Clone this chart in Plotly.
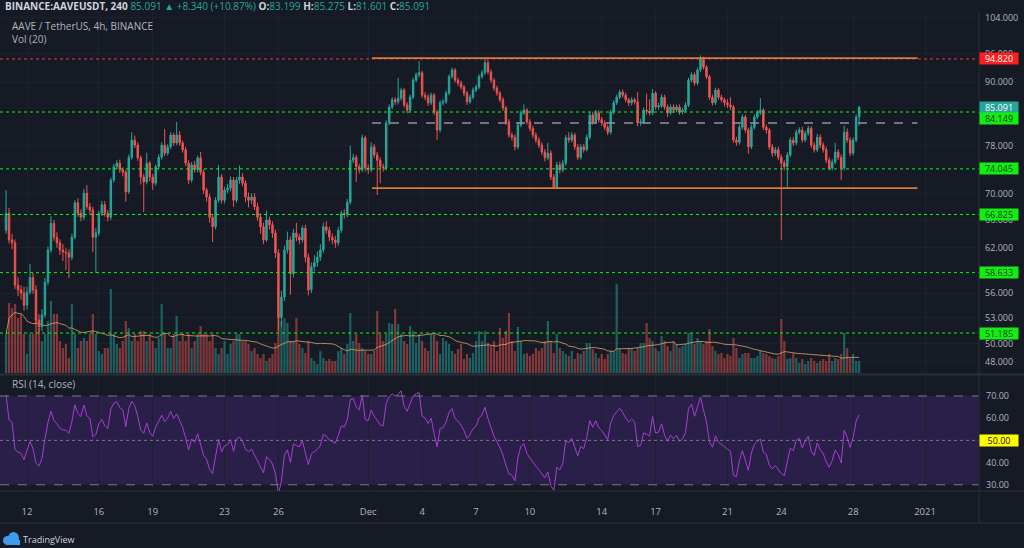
import numpy as np
import pandas as pd
import plotly.graph_objects as go

# ---------------- data (4h candles) ----------------
candle_start = "2020-11-10 20:00"
candle_freq = "4h"
first_open = 64.5

closes = [67.0, 63.1, 62.7, 57.0, 56.4, 56.0, 54.5, 56.1, 58.0, 56.4,
          52.7, 51.9, 53.3, 57.4, 61.7, 65.5, 63.5, 62.7, 61.7, 61.4,
          61.3, 60.7, 63.5, 68.6, 67.0, 66.4, 70.1, 68.0, 67.5, 63.5,
          64.1, 67.0, 68.3, 67.0, 66.4, 72.2, 74.4, 75.0, 73.9, 73.5,
          70.3, 76.0, 79.0, 78.1, 75.9, 72.7, 71.9, 75.0, 72.7, 71.7,
          74.4, 76.0, 78.1, 76.7, 77.8, 79.9, 78.5, 79.9, 78.5, 77.3,
          75.0, 72.2, 74.7, 73.9, 75.9, 73.5, 70.6, 69.5, 66.4, 65.0,
          69.0, 72.7, 69.0, 70.6, 70.9, 72.2, 69.0, 72.2, 72.7, 71.7,
          69.5, 69.0, 69.5, 68.0, 66.4, 65.0, 63.1, 66.0, 65.3, 64.1,
          61.3, 53.0, 55.5, 61.7, 63.1, 58.5, 64.1, 63.5, 63.1, 64.8,
          60.7, 56.4, 59.4, 60.0, 60.7, 61.7, 65.0, 64.5, 63.5, 63.1,
          62.7, 64.5, 67.0, 66.8, 68.7, 75.5, 76.0, 74.4, 73.9, 79.4,
          74.2, 73.9, 77.8, 76.4, 75.5, 74.4, 74.2, 82.1, 85.1, 86.5,
          86.1, 86.8, 88.4, 85.5, 84.5, 87.0, 90.4, 91.5, 91.9, 87.4,
          87.0, 85.9, 87.4, 84.15, 80.8, 85.9, 86.1, 87.8, 91.1, 92.5,
          90.4, 89.8, 89.0, 87.8, 86.1, 87.0, 88.4, 89.0, 91.1, 91.9,
          94.0, 92.1, 90.4, 88.8, 87.8, 86.5, 84.9, 82.3, 79.9, 79.5,
          77.8, 81.7, 84.0, 84.5, 82.3, 81.1, 79.9, 79.0, 78.1, 76.9,
          75.9, 76.7, 72.7, 71.1, 74.7, 73.9, 75.0, 79.4, 79.0, 79.9,
          77.8, 76.0, 77.8, 77.3, 79.5, 83.6, 82.3, 84.0, 82.7, 82.1,
          81.3, 80.4, 84.15, 85.9, 87.0, 88.0, 87.4, 86.5, 85.9, 86.5,
          86.1, 82.1, 82.3, 84.5, 84.3, 84.0, 87.8, 85.1, 85.3, 87.0,
          85.1, 84.0, 85.1, 84.5, 85.1, 84.15, 84.5, 85.5, 90.4, 91.5,
          89.8, 92.5, 95.0, 93.1, 91.1, 87.0, 85.9, 88.4, 87.0, 86.5,
          85.9, 85.5, 85.1, 79.0, 78.6, 81.3, 83.2, 80.8, 77.8, 81.3,
          83.2, 84.0, 84.5, 81.3, 80.8, 77.8, 76.7, 77.3, 76.0, 75.0,
          74.4, 76.4, 79.0, 78.5, 80.4, 80.8, 79.0, 80.2, 81.1, 78.1,
          77.3, 79.5, 78.1, 77.3, 75.5, 74.2, 75.2, 76.9, 76.0, 74.2,
          80.4, 79.0, 76.7, 79.0, 83.199, 85.091]

highs = [70.6, 67.8, 64.0, 63.2, 58.0, 57.0, 56.8, 56.8, 59.8, 58.6,
         57.0, 53.4, 54.0, 57.9, 62.2, 66.6, 66.0, 64.2, 63.2, 62.5,
         62.0, 61.8, 64.0, 69.0, 69.3, 67.6, 70.8, 71.4, 68.6, 68.0,
         64.8, 67.4, 68.9, 68.9, 67.5, 72.6, 74.9, 75.5, 75.6, 74.3,
         73.9, 76.5, 80.4, 79.8, 78.6, 76.3, 73.2, 76.8, 75.4, 73.2,
         74.8, 76.5, 78.6, 81.0, 78.3, 80.4, 80.3, 82.3, 80.6, 78.9,
         77.8, 75.5, 75.2, 75.4, 76.3, 76.9, 74.0, 71.0, 70.0, 66.9,
         69.5, 74.7, 73.2, 71.1, 71.6, 72.8, 72.7, 72.7, 74.6, 73.3,
         72.2, 70.2, 70.1, 70.1, 68.6, 67.0, 65.6, 67.4, 66.5, 65.8,
         64.6, 61.8, 56.3, 62.3, 64.3, 63.6, 64.7, 65.6, 64.0, 65.2,
         65.3, 61.2, 60.0, 61.0, 61.5, 62.5, 65.6, 65.8, 65.0, 64.0,
         63.7, 65.0, 67.4, 67.6, 69.2, 78.0, 76.6, 76.4, 74.9, 80.0,
         79.8, 74.8, 78.6, 78.3, 76.9, 76.0, 74.9, 82.6, 85.6, 87.0,
         87.0, 90.9, 88.9, 88.8, 86.0, 87.5, 90.9, 92.0, 94.4, 92.3,
         88.0, 87.6, 87.9, 87.8, 84.6, 86.4, 86.6, 88.3, 91.6, 93.0,
         92.9, 90.9, 90.3, 89.4, 88.2, 87.5, 88.9, 89.5, 91.6, 92.5,
         95.0, 94.6, 92.6, 90.8, 89.3, 88.2, 87.0, 85.3, 82.8, 80.4,
         80.0, 82.2, 84.5, 85.6, 84.9, 82.8, 81.6, 80.4, 79.5, 78.6,
         77.4, 78.5, 77.2, 73.2, 75.2, 75.3, 75.6, 79.9, 80.4, 80.4,
         80.3, 78.3, 78.3, 78.3, 80.0, 84.1, 84.2, 84.5, 84.5, 83.2,
         82.6, 81.8, 84.6, 86.4, 87.5, 88.5, 88.5, 87.9, 86.9, 87.0,
         86.9, 88.0, 82.9, 85.0, 87.7, 86.6, 88.6, 88.2, 85.9, 87.6,
         87.5, 85.6, 85.6, 85.6, 85.6, 85.6, 85.0, 86.0, 90.9, 92.0,
         92.0, 93.0, 95.6, 95.3, 93.5, 91.5, 87.5, 88.9, 88.8, 87.5,
         86.9, 86.6, 87.0, 85.5, 79.6, 81.8, 83.7, 83.6, 81.2, 81.8,
         83.7, 84.5, 86.8, 84.9, 81.8, 81.2, 78.3, 77.8, 77.8, 76.5,
         75.5, 76.9, 79.5, 79.5, 80.9, 81.3, 81.4, 80.7, 81.6, 81.5,
         78.6, 80.1, 80.0, 78.6, 77.8, 76.0, 75.7, 78.5, 77.4, 76.5,
         81.6, 81.1, 79.5, 79.5, 83.7, 85.275]

lows = [64.0, 62.6, 61.8, 56.5, 55.6, 55.2, 53.8, 54.0, 55.8, 55.9,
        52.3, 51.2, 51.4, 53.0, 57.0, 61.3, 63.0, 62.0, 61.0, 60.2,
        59.0, 57.9, 60.3, 63.2, 66.5, 65.8, 66.0, 67.6, 66.8, 61.4,
        58.6, 63.7, 66.6, 66.5, 65.8, 66.0, 71.8, 74.0, 73.4, 72.8,
        68.8, 70.0, 75.6, 77.6, 75.4, 71.5, 67.2, 71.5, 72.0, 70.6,
        71.3, 74.0, 75.6, 76.2, 76.3, 77.4, 78.0, 78.1, 78.0, 76.8,
        74.5, 71.6, 71.8, 73.4, 73.5, 73.0, 70.0, 68.8, 65.6, 62.8,
        64.6, 68.6, 68.5, 68.5, 70.1, 70.4, 68.0, 68.6, 71.6, 71.2,
        68.7, 67.9, 68.4, 67.5, 65.9, 64.0, 62.5, 62.8, 64.6, 63.4,
        60.6, 51.4, 51.9, 55.0, 61.2, 55.8, 58.0, 62.9, 62.5, 62.7,
        60.0, 55.7, 56.0, 58.8, 59.4, 60.2, 61.3, 64.0, 62.9, 62.5,
        62.0, 62.3, 64.1, 66.2, 66.4, 68.3, 75.0, 71.9, 73.3, 73.5,
        73.6, 73.2, 73.5, 75.9, 69.8, 71.7, 73.6, 73.8, 81.7, 84.7,
        85.5, 85.6, 86.3, 85.0, 83.9, 84.1, 86.6, 90.0, 91.0, 86.9,
        86.4, 85.3, 85.5, 83.6, 79.0, 80.4, 85.4, 85.7, 87.4, 90.7,
        89.9, 89.2, 88.5, 87.2, 85.5, 85.7, 86.6, 88.0, 88.6, 90.7,
        91.5, 91.6, 89.9, 88.3, 87.3, 86.0, 84.4, 81.8, 79.4, 78.9,
        77.2, 77.4, 81.3, 83.6, 81.8, 80.6, 79.4, 78.5, 77.6, 76.4,
        75.3, 75.5, 72.2, 70.8, 70.8, 73.3, 73.5, 74.6, 78.5, 78.6,
        77.3, 75.5, 75.6, 76.8, 77.0, 79.1, 81.8, 81.9, 82.2, 81.6,
        80.8, 79.9, 80.0, 83.7, 85.5, 86.6, 86.9, 86.0, 85.3, 85.4,
        85.6, 81.5, 81.6, 82.0, 83.7, 83.5, 83.6, 84.6, 84.6, 84.9,
        84.6, 83.2, 83.6, 84.0, 84.1, 83.6, 83.7, 84.1, 85.1, 90.0,
        89.3, 89.4, 92.1, 92.6, 90.6, 86.5, 85.4, 85.5, 86.5, 86.0,
        85.2, 84.9, 84.5, 78.5, 78.0, 78.2, 80.9, 80.3, 76.6, 77.4,
        80.9, 82.8, 83.6, 80.8, 80.2, 77.3, 76.1, 76.2, 75.5, 63.1,
        73.8, 71.0, 76.0, 78.0, 78.1, 80.0, 78.5, 78.6, 79.8, 77.6,
        76.8, 76.9, 77.6, 76.8, 75.0, 73.8, 73.8, 74.8, 75.5, 72.2,
        73.8, 78.5, 76.2, 76.3, 78.6, 81.601]

# volume, thousand AAVE per 4h candle
volumes = [39, 70, 65, 69, 55, 59, 39, 19, 39, 39,
           55, 45, 32, 39, 52, 72, 59, 59, 32, 25,
           29, 15, 69, 39, 25, 32, 35, 32, 39, 59,
           39, 22, 19, 25, 25, 84, 39, 29, 25, 32,
           52, 45, 32, 39, 32, 42, 42, 32, 39, 32,
           25, 35, 69, 39, 25, 25, 39, 57, 32, 39,
           32, 39, 25, 32, 39, 47, 39, 39, 32, 39,
           25, 19, 25, 32, 19, 29, 32, 39, 39, 32,
           32, 29, 22, 25, 19, 15, 19, 12, 15, 19,
           30, 59, 52, 55, 50, 32, 32, 55, 29, 25,
           20, 32, 15, 12, 9, 22, 15, 12, 14, 12,
           12, 22, 25, 19, 29, 60, 32, 39, 30, 25,
           22, 19, 19, 22, 62, 39, 32, 39, 50, 49,
           64, 49, 39, 32, 29, 47, 42, 30, 39, 32,
           25, 22, 39, 39, 32, 19, 35, 32, 29, 22,
           19, 24, 29, 14, 19, 15, 20, 32, 42, 32,
           42, 30, 27, 32, 22, 45, 35, 42, 60, 32,
           22, 46, 32, 19, 20, 17, 19, 25, 22, 25,
           32, 52, 32, 20, 39, 25, 22, 19, 17, 22,
           14, 20, 19, 22, 30, 30, 24, 20, 15, 19,
           14, 19, 22, 22, 89, 24, 20, 19, 24, 25,
           22, 25, 30, 30, 50, 35, 32, 25, 22, 37,
           32, 27, 22, 32, 29, 25, 27, 29, 40, 40,
           29, 35, 32, 29, 32, 44, 27, 22, 19, 20,
           15, 19, 17, 35, 25, 15, 19, 20, 20, 15,
           15, 17, 22, 20, 19, 17, 15, 14, 17, 54,
           32, 14, 15, 20, 15, 10, 14, 9, 12, 15,
           12, 10, 12, 14, 12, 19, 12, 15, 14, 19,
           40, 25, 15, 19, 12, 12]

# drawn levels / drawings
green_levels = [84.149, 74.045, 66.825, 58.633, 51.185]
red_level = 94.820
last_price = 85.091
range_top = 95.0
range_bottom = 70.9
range_mid = 82.1
range_start = "2020-12-01 05:00"
range_end = "2020-12-31 14:00"

# RSI settings (Wilder), seeded from the history before the visible window
rsi_period = 14
rsi_seed_gain = 1.0
rsi_seed_loss = 0.5
vol_ma_len = 20

# axes
x_view = ["2020-11-10 11:55", "2021-01-04 00:10"]
x_tick_dates = ["2020-11-12", "2020-11-16", "2020-11-19", "2020-11-23", "2020-11-26",
                "2020-12-01", "2020-12-04", "2020-12-07", "2020-12-10", "2020-12-14",
                "2020-12-17", "2020-12-21", "2020-12-24", "2020-12-28", "2021-01-01"]
x_tick_text = ["12", "16", "19", "23", "26", "Dec", "4", "7", "10", "14",
               "17", "21", "24", "28", "2021"]
price_ticks = [48, 50, 53, 56, 62, 66, 70, 78, 90, 96, 104]
price_view = [46.78, 105.38]
vol_view = [0, 361]
rsi_ticks = [30, 40, 50, 60, 70]
rsi_view = [27.2, 79.0]

# ---------------- derived series ----------------
times = pd.date_range(candle_start, periods=len(closes), freq=candle_freq)
opens = [first_open] + closes[:-1]
up = [c >= o for o, c in zip(opens, closes)]

ag, al, prev = rsi_seed_gain, rsi_seed_loss, first_open
rsi = []
for c in closes:
    d = c - prev
    ag = (ag * (rsi_period - 1) + max(d, 0)) / rsi_period
    al = (al * (rsi_period - 1) + max(-d, 0)) / rsi_period
    rsi.append(100 - 100 / (1 + ag / al))
    prev = c
vol_ma = pd.Series(volumes, dtype=float).rolling(vol_ma_len, min_periods=1).mean()

# ---------------- styling ----------------
BG = "#151a25"
GRID = "#1d212c"
TXT = "#b2b5be"
UP = "#26a69a"
DN = "#ef5350"
FONT = "Open Sans, sans-serif"
W, H = 1024, 548
ML, MR, MT, MB = 0, 45, 12, 57
PW, PH = W - ML - MR, H - MT - MB


def px(x):
    return (x - ML) / PW


def py(y):
    return (H - MB - y) / PH


fig = go.Figure()

fig.add_trace(go.Bar(
    x=times, y=volumes, yaxis="y", xaxis="x",
    marker=dict(color=["rgba(38,166,154,0.5)" if u else "rgba(239,83,80,0.5)" for u in up],
                line=dict(width=0)),
    hoverinfo="skip", showlegend=False))
fig.add_trace(go.Scatter(
    x=times, y=vol_ma, yaxis="y", mode="lines",
    line=dict(color="rgba(230,170,110,0.75)", width=1), hoverinfo="skip", showlegend=False))

fig.add_trace(go.Candlestick(
    x=times, open=opens, high=highs, low=lows, close=closes, yaxis="y3",
    increasing=dict(line=dict(color=UP, width=1), fillcolor=UP),
    decreasing=dict(line=dict(color=DN, width=1), fillcolor=DN),
    whiskerwidth=0, hoverinfo="skip", showlegend=False))

# full-width dotted levels
for lv in green_levels:
    fig.add_trace(go.Scatter(x=x_view, y=[lv, lv], yaxis="y3", mode="lines",
                             line=dict(color="#00ff00", width=1, dash="dot"),
                             hoverinfo="skip", showlegend=False))
fig.add_trace(go.Scatter(x=x_view, y=[red_level, red_level], yaxis="y3", mode="lines",
                         line=dict(color="#ff3030", width=1, dash="dot"),
                         hoverinfo="skip", showlegend=False))
# range drawing
for lv in (range_top, range_bottom):
    fig.add_trace(go.Scatter(x=[range_start, range_end], y=[lv, lv], yaxis="y3", mode="lines",
                             line=dict(color="#d97b3a", width=1.6),
                             hoverinfo="skip", showlegend=False))
fig.add_trace(go.Scatter(x=[range_start, range_end], y=[range_mid, range_mid], yaxis="y3",
                         mode="lines", line=dict(color="#8f939e", width=1.6, dash="dash"),
                         hoverinfo="skip", showlegend=False))

# RSI
fig.add_trace(go.Scatter(x=times, y=rsi, yaxis="y2", mode="lines",
                         line=dict(color="#a43fd1", width=1), hoverinfo="skip", showlegend=False))
for lv, dash in ((70, "dash"), (30, "dash"), (50, "dot")):
    fig.add_trace(go.Scatter(x=x_view, y=[lv, lv], yaxis="y2", mode="lines",
                             line=dict(color="#787b86", width=1, dash=dash),
                             hoverinfo="skip", showlegend=False))

shapes = [
    dict(type="rect", xref="x", yref="y2", x0=x_view[0], x1=x_view[1], y0=30, y1=70,
         fillcolor="rgba(120,50,200,0.22)", line=dict(width=0), layer="below"),
    dict(type="line", xref="paper", yref="paper", x0=0, x1=W / PW, y0=py(374.5), y1=py(374.5),
         line=dict(color="#2a2e39", width=2)),
    dict(type="line", xref="paper", yref="paper", x0=0, x1=W / PW, y0=0, y1=0,
         line=dict(color="#2a2e39", width=1)),
    dict(type="line", xref="paper", yref="paper", x0=0, x1=W / PW, y0=py(523), y1=py(523),
         line=dict(color="#2a2e39", width=1)),
    dict(type="line", xref="paper", yref="paper", x0=1, x1=1, y0=py(523), y1=1,
         line=dict(color="#2a2e39", width=1)),
    # TradingView logo cloud
    dict(type="circle", xref="paper", yref="paper", x0=px(3), x1=px(12), y0=py(545), y1=py(536),
         fillcolor="#3d9be9", line=dict(width=0)),
    dict(type="circle", xref="paper", yref="paper", x0=px(8), x1=px(19), y0=py(544), y1=py(532),
         fillcolor="#3d9be9", line=dict(width=0)),
    dict(type="rect", xref="paper", yref="paper", x0=px(6), x1=px(20), y0=py(545), y1=py(540),
         fillcolor="#3d9be9", line=dict(width=0)),
]

ann = []


def axis_label(yval, yref, text, bg, fg, yshift=0):
    ann.append(dict(xref="paper", yref=yref, x=1, y=yval, xanchor="left", yanchor="middle",
                    text=text, showarrow=False, bgcolor=bg, borderpad=0, yshift=yshift,
                    width=38, height=11, align="center",
                    font=dict(family=FONT, size=9, color=fg)))


axis_label(np.log10(red_level), "y3", f"{red_level:.3f}", "#ff1e1e", "#ffffff")
axis_label(np.log10(last_price), "y3", f"{last_price:.3f}", UP, "#ffffff")
for i, lv in enumerate(green_levels):
    axis_label(np.log10(lv), "y3", f"{lv:.3f}", "#12ee12", "#0b3d0b", -6 if i == 0 else 0)
axis_label(50, "y2", "50.00", "#ffff00", "#111111")

hdr = ("<b>BINANCE:AAVEUSDT, 240</b> "
       "<span style='color:#26a69a'>85.091 ▲ +8.340 (+10.87%)</span> "
       "<b>O:</b><span style='color:#26a69a'>83.199</span> "
       "<b>H:</b><span style='color:#26a69a'>85.275</span> "
       "<b>L:</b><span style='color:#26a69a'>81.601</span> "
       "<b>C:</b><span style='color:#26a69a'>85.091</span>")
ann.append(dict(xref="paper", yref="paper", x=px(3), y=py(6), xanchor="left", yanchor="middle",
                text=hdr, showarrow=False, font=dict(family=FONT, size=10, color="#d1d4dc")))
ann.append(dict(xref="paper", yref="paper", x=px(10), y=py(26), xanchor="left", yanchor="middle",
                text="AAVE / TetherUS, 4h, BINANCE", showarrow=False,
                font=dict(family=FONT, size=10, color=TXT)))
ann.append(dict(xref="paper", yref="paper", x=px(10), y=py(39), xanchor="left", yanchor="middle",
                text="Vol (20)", showarrow=False, font=dict(family=FONT, size=10, color=TXT)))
ann.append(dict(xref="paper", yref="paper", x=px(10), y=py(384), xanchor="left", yanchor="middle",
                text="RSI (14, close)", showarrow=False, font=dict(family=FONT, size=10, color=TXT)))
ann.append(dict(xref="paper", yref="paper", x=px(21), y=py(539), xanchor="left", yanchor="middle",
                text="TradingView", showarrow=False, font=dict(family=FONT, size=9, color="#d1d4dc")))

fig.update_layout(
    width=W, height=H,
    margin=dict(l=ML, r=MR, t=MT, b=MB),
    paper_bgcolor=BG, plot_bgcolor=BG,
    showlegend=False, hovermode=False, bargap=0.25,
    font=dict(family=FONT, color=TXT, size=10),
    xaxis=dict(type="date", range=x_view, anchor="y2", tickvals=x_tick_dates, ticktext=x_tick_text,
               showgrid=True, gridcolor=GRID, gridwidth=1, zeroline=False, showline=False,
               ticks="", ticklabelstandoff=13, tickfont=dict(size=9.5, color=TXT),
               rangeslider=dict(visible=False), fixedrange=True),
    yaxis=dict(domain=[py(373), 1], range=vol_view, visible=False, fixedrange=True),
    yaxis3=dict(overlaying="y", type="log", range=[np.log10(price_view[0]), np.log10(price_view[1])],
                side="right", anchor="x", tickvals=price_ticks,
                ticktext=[f"{t:.3f}" for t in price_ticks],
                showgrid=True, gridcolor=GRID, zeroline=False, showline=False, ticks="",
                ticklabelstandoff=5, tickfont=dict(size=9, color=TXT), fixedrange=True),
    yaxis2=dict(domain=[0, py(376)], range=rsi_view, side="right", anchor="x",
                tickvals=rsi_ticks, ticktext=[f"{t:.2f}" for t in rsi_ticks],
                showgrid=False, zeroline=False, showline=False, ticks="",
                ticklabelstandoff=6, tickfont=dict(size=9, color=TXT), fixedrange=True),
    shapes=shapes, annotations=ann,
)

fig.write_html("out.html")
